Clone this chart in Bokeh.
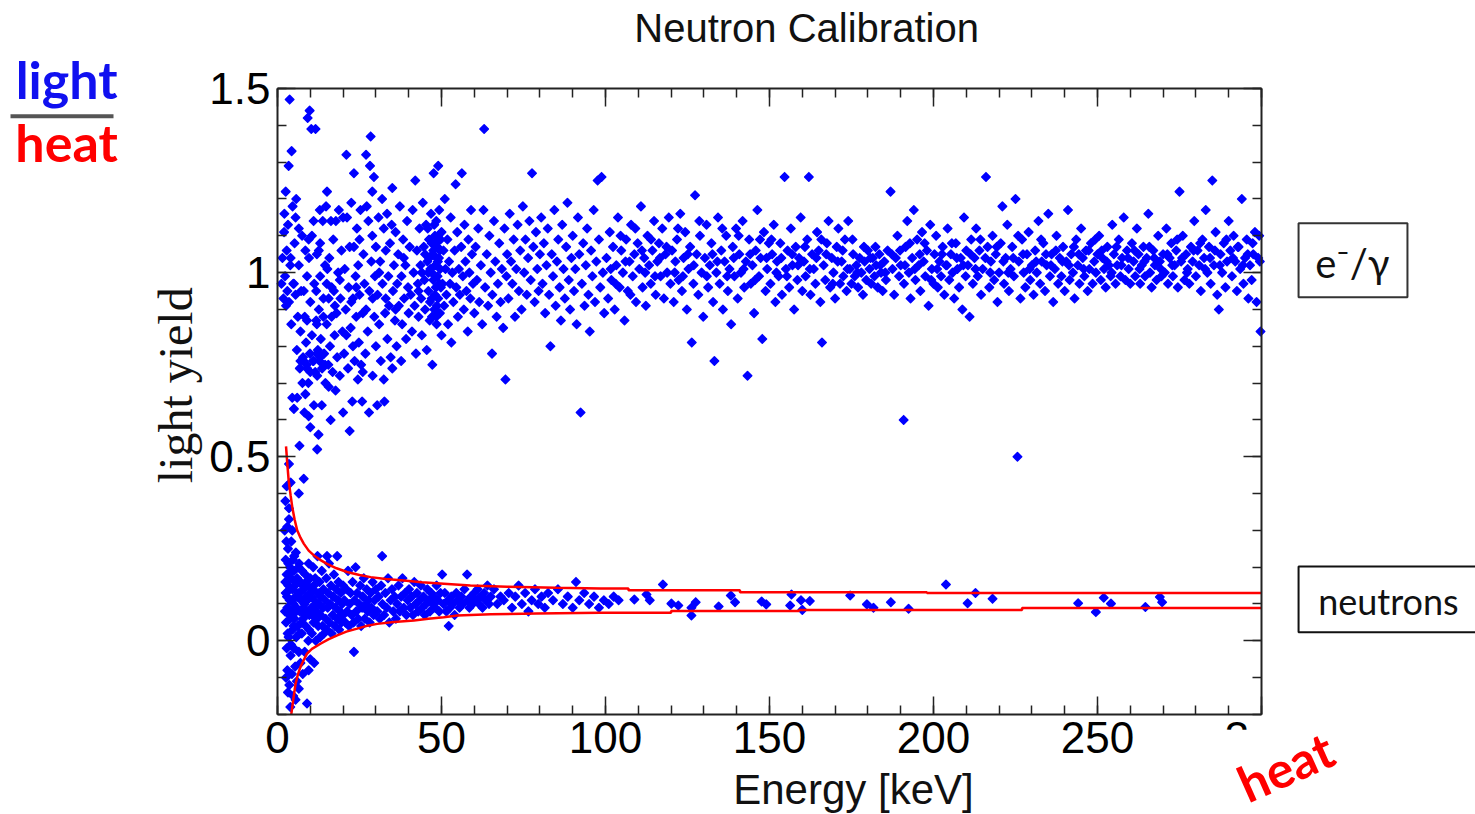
import math
from bokeh.plotting import figure
from bokeh.models import (Range1d, LinearAxis, FixedTicker, CustomJSTickFormatter,
                          Label, BoxAnnotation, ColumnDataSource)
from bokeh.embed import file_html
from bokeh.resources import INLINE

# ---------------- data (energy keV, light yield) ----------------
egamma_points = [
    # 0-10 keV
    (1.2,0.97),(1.5,1.04),(1.8,0.93),(2.0,1.11),(2.1,1.16),(2.3,0.99),(2.5,1.22),(2.6,0.91),(2.8,1.06),
    (3.0,0.95),(3.2,1.13),(3.4,1.29),(3.5,0.92),(3.7,1.47),(3.9,1.02),(4.0,1.04),(4.2,0.86),(4.3,1.33),
    (4.5,0.66),(4.6,1.18),(4.8,0.97),(5.0,0.63),(5.0,0.97),(5.2,1.08),(5.5,1.15),(5.5,0.94),(5.7,1.20),
    (5.9,0.79),(6.0,0.66),(6.2,0.88),(6.5,1.12),(6.5,1.02),(6.7,0.53),(6.8,0.74),(7.0,0.84),(7.2,0.95),
    (7.5,1.10),(7.6,0.70),(7.8,0.77),(8.0,0.95),(8.2,0.62),(8.3,0.88),(8.5,0.67),(8.5,1.06),(8.7,0.81),
    (8.9,0.75),(9.0,0.87),(9.0,0.99),(9.2,1.42),(9.4,0.70),(9.5,0.61),(9.5,1.09),(9.6,1.04),(9.8,1.44),
    (9.9,0.78),(10.0,0.58),(10.0,0.92),(10.0,0.73),(8.0,0.76),(9.0,0.74),(7.0,0.76),
    # 10-20 keV
    (10.3,1.39),(10.5,1.10),(10.5,0.83),(10.8,0.76),(11.0,1.14),(11.1,0.64),(11.2,0.97),(11.5,0.73),
    (11.6,1.39),(11.8,0.87),(12.0,1.05),(12.1,0.52),(12.1,0.72),(12.3,0.79),(12.5,0.56),(12.6,0.90),
    (12.6,1.06),(12.8,0.76),(12.9,1.17),(13.0,0.99),(13.2,0.82),(13.5,0.64),(13.6,0.74),(13.8,1.14),
    (14.0,0.93),(14.2,0.78),(14.5,1.02),(14.6,0.70),(14.8,1.18),(15.0,0.86),(15.1,1.22),(15.2,1.01),
    (15.5,0.75),(15.6,0.69),(15.6,0.93),(15.8,1.04),(16.0,0.80),(16.2,0.60),(16.3,1.14),(16.5,0.96),
    (16.8,0.73),(17.0,1.09),(17.2,0.95),(17.4,0.83),(17.7,0.68),(17.8,1.14),(18.0,0.89),(18.2,0.77),
    (18.5,1.00),(18.7,1.17),(19.0,0.72),(19.2,0.93),(19.5,1.06),(19.8,0.84),(20.0,0.62),(20.0,1.15),
    (14.0,0.88),(11.8,0.95),(13.0,1.08),(17.5,0.91),(19.0,0.98),(15.0,0.97),(12.0,0.86),(16.5,0.88),
    (11.0,0.76),(13.0,0.77),(14.5,0.75),(12.0,0.78),
    # 20-30 keV
    (20.3,0.78),(20.5,1.01),(20.8,0.90),(21.0,1.32),(21.2,1.15),(21.5,0.74),(21.7,0.96),(22.0,0.57),
    (22.0,1.07),(22.3,0.85),(22.5,1.19),(22.8,0.65),(23.0,0.93),(23.3,1.27),(23.3,1.07),(23.5,0.76),
    (23.8,0.99),(24.0,0.88),(24.2,1.12),(24.5,0.71),(24.6,1.02),(24.8,0.81),(25.0,0.94),(25.3,1.17),
    (25.5,0.75),(25.8,0.65),(26.0,0.89),(26.2,1.05),(26.5,0.97),(26.8,0.78),(27.0,1.32),(27.2,1.18),
    (27.5,0.84),(27.7,1.14),(27.9,0.62),(28.0,0.95),(28.2,1.29),(28.4,1.37),(28.6,1.03),(28.9,1.22),
    (28.9,1.10),(29.0,0.72),(29.4,1.26),(29.5,0.88),(29.7,0.99),(30.0,0.80),(30.0,1.07),
    (21.0,0.83),(22.5,0.92),(24.0,0.96),(26.0,0.73),(27.0,0.90),(25.0,1.09),(23.0,0.80),(29.0,0.93),
    # 30-40 keV
    (30.4,0.64),(30.5,0.94),(30.8,1.15),(31.0,0.86),(31.3,1.03),(31.5,0.76),(31.9,1.20),(32.0,0.97),
    (32.4,0.71),(32.4,1.12),(32.6,0.65),(32.8,0.89),(33.0,1.06),(33.4,1.16),(33.5,0.82),(33.8,0.99),
    (34.0,0.91),(34.3,1.08),(34.5,0.77),(35.0,0.74),(35.0,1.23),(35.2,0.95),(35.5,1.02),(35.8,0.87),
    (36.0,1.11),(36.3,0.80),(36.5,0.97),(36.8,1.05),(37.0,0.91),(37.3,1.18),(37.7,0.76),(37.8,0.99),
    (38.0,0.86),(38.3,1.09),(38.6,0.93),(39.0,1.02),(39.2,0.82),(39.5,1.14),(39.8,0.96),(40.0,0.89),
    (31.0,1.00),(33.0,0.93),(36.0,0.90),(38.5,1.04),(34.8,1.13),
    # 40-50 keV
    (40.3,1.07),(40.6,0.94),(41.0,0.84),(41.2,1.17),(41.5,1.00),(41.8,0.91),(42.0,1.25),(42.2,0.78),
    (42.5,1.06),(42.8,0.97),(43.0,0.88),(43.3,1.12),(43.6,1.02),(43.8,0.93),(44.0,0.83),(44.3,1.19),
    (44.6,1.07),(44.8,0.98),(45.0,0.90),(45.3,1.13),(45.5,0.79),(45.7,1.03),(46.0,0.95),(46.2,1.09),
    (46.4,0.87),(46.6,1.01),(46.8,1.16),(47.0,0.93),(47.2,0.75),(47.3,1.05),(47.5,0.98),(47.6,1.27),
    (47.8,0.90),(48.0,1.10),(48.1,1.02),(48.3,0.96),(48.4,1.14),(48.5,0.86),(48.7,1.07),(48.8,0.99),
    (49.0,0.93),(49.0,1.29),(49.2,1.04),(49.3,1.17),(49.5,0.89),(49.6,1.01),(49.8,0.96),(50.0,1.11),
    (50.0,0.83),(45.0,1.05),(46.0,1.00),(47.0,1.08),(48.5,1.04),(49.5,1.06),(43.0,0.95),(44.0,1.00),
    (46.5,0.92),(47.0,1.00),(47.5,1.06),(48.0,0.94),(48.2,1.08),(48.6,0.91),(49.0,1.10),(49.4,0.97),
    (45.8,1.12),(46.3,1.04),(47.8,1.13),(48.9,1.03),(49.7,1.09),(47.1,0.88),(48.4,0.88),
    # 50-60 keV
    (50.3,0.97),(50.6,1.06),(50.8,0.91),(51.0,1.20),(51.2,1.01),(51.5,0.94),(51.8,1.09),(52.0,0.86),
    (52.3,1.03),(52.6,0.97),(52.8,1.15),(53.0,0.81),(53.3,1.00),(53.6,0.92),(54.0,1.06),(54.3,1.24),
    (54.5,0.96),(54.8,1.11),(55.0,0.88),(55.3,1.01),(55.6,0.94),(56.0,1.07),(56.2,1.27),(56.5,0.99),
    (56.8,0.90),(57.0,1.13),(57.3,1.03),(57.6,0.95),(58.0,0.84),(58.2,1.09),(58.5,1.00),(58.8,0.93),
    (59.0,1.17),(59.3,1.05),(59.6,0.97),(60.0,0.89),
    # 60-70 keV
    (60.4,1.07),(60.8,0.98),(61.2,1.12),(61.5,0.92),(62.0,1.02),(62.4,0.86),(62.8,1.17),(63.0,1.39),
    (63.3,0.96),(63.8,1.05),(64.2,0.91),(64.6,1.10),(65.0,1.00),(65.4,0.78),(65.5,0.94),(66.0,1.14),
    (66.4,1.03),(66.8,0.88),(67.2,0.97),(67.6,1.08),(68.0,0.92),(68.4,1.01),(68.8,0.85),(69.2,1.12),
    (69.5,0.71),(69.8,0.99),(70.0,1.05),
    # 70-80 keV
    (70.4,0.93),(70.8,1.16),(71.2,1.03),(71.6,0.97),(72.0,1.09),(72.4,0.88),(72.8,1.01),(73.2,1.13),
    (73.6,0.95),(74.0,1.06),(74.4,0.90),(74.8,1.18),(75.2,1.00),(75.6,1.09),(76.0,0.94),(76.4,1.04),
    (76.8,1.14),(77.2,0.98),(77.6,1.27),(78.0,1.07),(78.4,0.92),(78.8,1.11),(79.2,1.01),(79.6,0.95),
    (80.0,1.05),
    # 80-90 keV
    (80.4,1.15),(80.8,0.97),(81.2,1.08),(81.6,0.89),(82.0,1.02),(82.4,1.12),(82.8,0.94),(83.2,0.80),
    (83.6,1.05),(84.0,0.99),(84.4,1.17),(84.8,0.91),(85.2,1.03),(85.6,1.09),(86.0,0.96),(86.4,0.87),
    (86.8,1.13),(87.2,1.01),(87.6,0.93),(88.0,1.07),(88.4,1.19),(88.8,0.98),(89.2,0.90),(89.6,1.04),
    # 90-100 keV
    (90.0,1.10),(90.4,0.95),(90.8,1.01),(91.2,0.86),(91.6,1.15),(92.0,1.05),(92.4,0.62),(92.8,0.97),
    (93.2,1.08),(93.6,0.91),(94.0,1.02),(94.4,1.12),(94.8,0.94),(95.2,0.84),(95.6,1.06),(96.0,0.99),
    (96.4,1.17),(96.8,0.92),(97.2,1.03),(97.6,1.25),(98.0,1.09),(98.4,0.96),(98.8,1.26),(99.2,1.00),
    (99.6,0.89),
    # 100-150 keV
    (100.3,1.04),(100.8,0.93),(101.3,1.11),(101.8,0.98),(102.3,1.07),(102.8,0.90),(103.3,1.02),(103.8,1.15),
    (104.3,0.96),(104.8,1.06),(105.3,1.00),(105.8,0.87),(106.3,1.09),(106.8,0.95),(107.3,1.03),(107.8,1.13),
    (108.3,0.99),(108.8,1.05),(109.3,0.92),(109.8,1.08),
    (110.3,1.01),(110.8,1.18),(111.3,0.96),(111.8,1.04),(112.3,0.91),(112.8,1.10),(113.3,1.02),(113.8,0.97),
    (114.3,1.06),(114.8,1.14),(115.3,0.94),(115.8,1.03),(116.3,1.08),(116.8,0.99),(117.3,1.12),(117.8,0.93),
    (118.3,1.05),(118.8,1.00),(119.3,1.15),(119.8,0.97),
    (120.3,1.06),(120.8,0.92),(121.3,1.03),(121.8,1.09),(122.3,0.98),(122.8,1.16),(123.3,0.95),(123.8,1.04),
    (124.3,1.11),(124.8,0.90),(125.3,1.01),(125.8,1.07),(126.3,0.81),(126.8,0.97),(127.3,1.21),(127.8,1.05),
    (128.3,0.94),(128.8,1.10),(129.3,1.00),(129.8,0.88),
    (130.3,1.04),(130.8,1.13),(131.3,0.96),(131.8,1.02),(132.3,1.08),(132.8,0.92),(133.2,0.76),(133.8,1.00),
    (134.3,1.15),(134.8,0.97),(135.3,1.06),(135.8,0.90),(136.3,1.03),(136.8,1.10),(137.3,0.95),(137.8,1.01),
    (138.3,0.86),(138.8,1.07),(139.3,0.99),(139.8,1.12),
    (140.3,0.93),(140.8,1.05),(141.3,1.00),(141.8,1.14),(142.3,0.96),(142.8,1.03),(143.3,0.72),(143.8,1.09),
    (144.3,0.97),(144.8,1.02),(145.3,0.89),(145.8,1.06),(146.3,1.17),(146.8,0.99),(147.3,1.04),(147.8,0.82),
    (148.3,1.11),(148.8,0.95),(149.3,1.01),(149.8,1.08),
    # 150-200 keV
    (150.3,0.97),(150.8,1.05),(151.3,1.13),(151.8,0.92),(152.3,1.03),(152.8,0.99),(153.3,1.08),(153.8,0.94),
    (154.6,1.26),(155.0,1.01),(155.5,1.06),(156.0,0.96),(156.5,1.12),(157.0,1.02),(157.5,0.90),(158.0,1.07),
    (158.5,0.98),(159.0,1.04),(159.5,1.15),(160.0,0.95),
    (160.5,1.03),(161.0,0.99),(161.5,1.09),(162.0,1.26),(162.5,0.94),(163.0,1.05),(163.5,1.01),(164.0,0.97),
    (164.5,1.11),(165.0,1.06),(165.5,0.92),(166.0,0.81),(166.5,1.02),(167.0,0.98),(167.5,1.08),(168.0,1.14),
    (168.5,0.96),(169.0,1.04),(169.5,1.00),(170.0,0.93),
    (170.5,1.07),(171.0,1.12),(171.5,0.97),(172.0,1.03),(172.5,0.99),(173.0,1.09),(173.5,0.95),(174.0,1.14),
    (174.5,1.01),(175.0,0.97),(175.5,1.05),(176.0,0.99),(176.5,1.02),(177.0,0.96),(177.5,1.04),(178.0,1.00),
    (178.5,0.94),(179.0,1.03),(179.5,0.98),(180.0,1.06),
    (180.5,1.01),(181.0,0.97),(181.5,1.04),(182.0,0.99),(182.5,1.02),(183.0,0.96),(183.5,1.05),(184.0,1.00),
    (184.5,0.95),(185.0,1.03),(185.5,0.98),(186.0,1.06),(186.9,1.22),(187.5,1.01),(188.0,0.94),(188.5,1.04),
    (189.0,1.10),(189.5,0.99),(190.9,0.60),(190.0,1.02),
    (191.0,0.97),(191.5,1.07),(192.0,1.14),(192.5,1.00),(193.0,0.93),(193.5,1.04),(194.0,1.17),(194.5,0.98),
    (195.0,1.09),(195.5,1.02),(196.0,0.95),(196.5,1.11),(197.0,1.03),(197.5,0.99),(198.0,1.06),(198.5,0.91),
    (199.0,1.13),(199.5,1.01),(200.0,0.97),(200.3,1.05),
    # 200-250 keV
    (200.8,1.10),(201.3,0.96),(201.8,1.03),(202.3,0.99),(202.8,1.07),(203.3,0.94),(203.8,1.02),(204.3,1.12),
    (204.8,0.98),(205.3,1.05),(205.8,1.00),(206.3,0.93),(206.8,1.08),(207.3,1.01),(207.8,0.96),(208.3,1.04),
    (208.8,0.90),(209.3,1.15),(209.8,0.99),(210.0,1.06),
    (210.5,1.02),(211.0,0.88),(211.5,1.09),(212.0,0.97),(212.5,1.04),(213.0,1.12),(213.5,0.99),(214.0,1.06),
    (214.5,0.94),(215.0,1.01),(216.0,1.26),(216.5,1.07),(217.0,0.96),(217.5,1.03),(218.0,1.10),(218.5,0.98),
    (219.0,1.05),(219.5,0.92),(220.0,1.00),
    (220.5,1.08),(221.0,1.18),(221.5,0.97),(222.0,1.04),(222.5,1.13),(223.0,0.95),(223.5,1.01),(224.0,1.07),
    (224.5,0.99),(225.0,1.20),(225.6,0.50),(226.0,1.03),(226.5,0.93),(227.0,1.09),(227.5,1.00),(228.0,0.96),
    (228.5,1.05),(229.0,1.11),(229.5,0.98),(230.0,1.02),
    (230.5,0.94),(231.0,1.06),(231.5,1.00),(232.0,1.14),(232.5,0.97),(233.0,1.03),(233.5,1.08),(234.0,0.95),
    (234.5,1.02),(235.0,1.16),(235.5,0.99),(236.0,1.05),(236.5,0.92),(237.0,1.01),(237.5,1.10),(238.0,0.97),
    (238.5,1.04),(239.0,0.99),(239.5,1.07),(240.0,0.95),
    (240.5,1.03),(241.0,1.17),(241.5,0.98),(242.0,1.05),(242.5,1.00),(243.0,0.93),(243.5,1.09),(244.0,1.02),
    (244.5,0.97),(245.0,1.12),(245.5,1.04),(246.0,0.99),(246.5,1.06),(247.0,0.95),(247.5,1.01),(248.0,1.08),
    (248.5,0.97),(249.0,1.03),(249.5,1.00),(250.0,1.05),
    # 250-300 keV
    (250.5,1.10),(251.0,0.98),(251.5,1.04),(252.0,1.01),(252.5,0.96),(253.0,1.07),(253.5,1.02),(254.0,0.99),
    (254.5,1.13),(255.0,1.05),(255.5,0.97),(256.0,1.02),(256.5,1.09),(257.0,0.99),(257.5,1.04),(258.0,1.15),
    (258.5,0.98),(259.0,1.06),(259.5,1.01),(260.0,0.97),
    (260.5,1.08),(261.0,1.03),(261.5,0.99),(262.0,1.12),(262.5,1.05),(263.0,0.97),(263.5,1.02),(264.0,1.07),
    (264.5,0.99),(265.0,1.04),(265.5,1.16),(266.0,1.00),(266.5,0.96),(267.0,1.06),(267.5,1.02),(268.0,0.98),
    (268.5,1.10),(269.0,1.03),(269.5,0.99),(270.0,1.05),
    (270.5,1.00),(271.0,1.12),(271.5,0.97),(272.0,1.04),(272.5,1.08),(273.0,0.99),(273.5,1.02),(274.0,1.06),
    (274.5,0.96),(275.0,1.22),(275.5,1.03),(276.0,1.10),(276.5,0.98),(277.0,1.05),(277.5,1.01),(278.0,0.97),
    (278.5,1.07),(279.0,1.03),(279.5,1.14),(280.0,0.99),
    (280.5,1.06),(281.0,1.02),(281.5,0.95),(282.0,1.09),(282.5,1.04),(283.0,1.17),(283.5,1.00),(284.0,1.07),
    (284.5,0.97),(285.0,1.25),(285.5,1.02),(286.0,1.11),(286.5,0.94),(287.0,0.90),(287.5,1.05),(288.0,1.00),
    (288.5,1.08),(289.0,0.96),(289.5,1.03),(290.0,1.14),
    (290.5,1.06),(291.0,0.99),(291.5,1.10),(292.0,1.03),(292.5,0.95),(293.0,1.07),(293.5,1.01),(294.0,1.20),
    (294.5,0.97),(295.0,1.04),(295.5,1.09),(296.0,0.93),(296.5,1.02),(297.0,0.98),(297.5,1.05),(298.0,1.11),
    (298.5,0.92),(299.0,1.04),(299.3,1.10),(299.7,0.84),
    # additional points in the dense core 100-300 keV
    (101.6,1.01),(103.1,0.97),(104.6,1.10),(106.1,1.03),(107.6,0.94),(109.1,1.12),
    (111.1,1.06),(112.1,1.00),(113.9,1.09),(115.1,0.99),(116.6,1.04),(118.6,1.07),
    (121.1,1.00),(122.1,1.12),(123.6,0.99),(125.1,1.05),(126.9,1.02),(128.6,1.14),
    (130.9,0.99),(132.6,1.05),(134.1,1.03),(135.6,1.12),(137.1,0.99),(139.1,1.04),
    (140.6,1.10),(142.1,1.01),(144.1,1.05),(145.6,0.98),(147.1,1.09),(149.1,1.04),
    (150.6,1.09),(152.1,1.00),(153.6,1.04),(155.3,0.99),(156.9,1.05),(158.7,1.02),
    (160.8,1.07),(162.3,1.01),(164.3,1.04),(165.8,1.09),(167.3,1.05),(169.3,0.97),
    (170.8,1.03),(172.3,1.06),(173.8,1.01),(175.3,1.09),(176.8,1.00),(178.8,1.07),
    (180.8,1.04),(182.3,1.07),(183.8,1.02),(185.3,1.00),(187.3,1.05),(189.8,1.06),
    (191.3,1.02),(192.8,1.08),(194.3,1.01),(195.8,1.05),(197.3,1.08),(199.3,0.98),
    (201.1,1.01),(202.6,1.05),(204.1,1.02),(205.6,1.08),(207.1,1.04),(209.1,1.02),
    (211.3,1.05),(212.8,1.01),(214.3,1.09),(215.8,1.04),(217.3,1.00),(219.3,1.07),
    (221.3,1.03),(222.8,1.00),(224.3,1.04),(225.8,1.10),(227.3,1.05),(229.3,1.01),
    (231.3,1.03),(232.8,1.09),(234.3,1.05),(235.8,1.02),(237.3,1.06),(239.3,1.03),
    (241.3,1.02),(242.8,1.07),(244.3,1.05),(245.8,1.01),(247.3,1.06),(249.3,1.09),
    (251.3,1.06),(252.8,1.03),(254.3,1.00),(255.8,1.07),(257.3,1.02),(259.3,1.04),
    (261.3,1.06),(262.8,1.01),(264.3,1.03),(265.8,1.07),(267.3,1.04),(269.3,1.01),
    (271.3,1.05),(272.8,1.02),(274.3,1.09),(275.8,1.04),(277.3,1.00),(279.3,1.06),
    (281.3,1.08),(282.8,1.01),(284.3,1.04),(285.8,1.06),(287.3,1.02),(289.3,1.09),
    (291.3,1.04),(292.8,1.07),(294.3,1.02),(295.8,1.05),(297.3,1.08),(299.5,1.03),
]

neutron_points = [
    # 0-10 keV
    (2.2,0.30),(2.5,0.22),(2.5,0.13),(2.6,0.05),(2.8,-0.02),(2.8,0.18),(3.0,0.09),(3.0,-0.08),(3.2,0.25),
    (3.3,0.15),(3.4,0.01),(3.5,0.36),(3.5,0.33),(3.5,0.48),(3.6,-0.12),(3.7,0.11),(3.8,0.20),(3.9,0.06),
    (4.0,-0.04),(4.0,0.43),(4.1,0.17),(4.2,0.27),(4.3,0.08),(4.4,-0.09),(4.5,0.14),(4.6,0.03),(4.7,0.22),
    (4.8,-0.15),(4.9,0.10),(5.0,0.19),(5.0,-0.02),(5.2,0.06),(5.3,0.15),(5.4,-0.07),(5.5,0.12),(5.6,0.24),
    (5.7,0.01),(5.8,0.09),(5.9,-0.11),(6.0,0.17),(6.2,0.04),(6.3,0.13),(6.5,0.40),(6.5,-0.03),(6.6,0.21),
    (6.8,0.08),(7.0,0.16),(7.0,-0.06),(7.2,0.11),(7.4,0.02),(7.5,0.19),(7.7,-0.09),(7.8,0.06),(8.0,0.44),
    (8.0,0.14),(8.2,0.10),(8.3,-0.03),(8.5,0.18),(8.6,0.04),(8.8,0.12),(9.0,-0.17),(9.0,0.08),(9.2,0.15),
    (9.4,0.00),(9.5,0.21),(9.7,0.07),(9.9,0.13),(10.0,-0.05),(10.0,0.17),
    (2.3,0.08),(2.4,0.16),(2.7,0.27),(2.9,0.12),(3.1,0.02),(3.3,0.21),(3.6,0.07),(3.8,0.14),(4.1,-0.01),
    (4.4,0.19),(4.6,0.11),(4.9,0.04),(5.1,0.23),(5.4,0.16),(5.7,0.08),(6.1,0.12),(6.4,0.20),(6.7,0.02),
    (6.9,0.13),(7.3,0.05),(7.6,0.15),(7.9,0.09),(8.4,0.07),(8.7,0.16),(9.1,0.11),(9.6,0.03),
    (3.2,-0.14),(3.9,-0.18),(2.6,-0.10),(5.5,-0.16),(4.5,0.30),(3.0,0.31),(2.4,0.38),(6.5,-0.13),
    (9.5,-0.08),(2.8,0.42),
    # 10-20 keV
    (10.2,0.12),(10.6,0.07),(11.1,0.15),(11.6,0.10),(12.1,0.06),(12.7,0.13),(11.2,-0.06),
    (10.3,0.09),(10.5,0.02),(10.7,0.14),(10.9,0.20),(11.0,0.05),(11.3,0.11),(11.5,0.17),(11.7,0.00),
    (11.9,0.08),(12.0,0.13),(12.2,0.23),(12.4,0.04),(12.6,0.10),(12.8,0.16),(13.0,0.01),(13.1,0.07),
    (13.3,0.12),(13.5,0.19),(13.7,0.04),(13.9,0.09),(14.0,0.14),(14.2,0.02),(14.5,0.11),(14.7,0.06),
    (14.9,0.17),(15.1,0.03),(15.1,0.23),(15.3,0.09),(15.5,0.13),(15.7,0.21),(15.9,0.05),(16.1,0.10),
    (16.3,0.15),(16.5,0.02),(16.8,0.07),(17.0,0.12),(17.2,0.18),(17.5,0.04),(17.7,0.09),(17.9,0.14),
    (18.2,0.06),(18.2,0.23),(18.4,0.11),(18.6,0.16),(18.8,0.03),(19.0,0.08),(19.3,0.13),(19.5,0.05),
    (19.7,0.10),(20.0,0.15),(20.0,0.07),
    # 20-30 keV
    (20.4,0.11),(20.7,0.05),(21.0,0.14),(21.2,0.08),(21.5,0.19),(21.8,0.04),(22.0,0.10),(22.3,0.13),
    (22.6,0.07),(22.9,0.16),(23.2,0.05),(23.3,-0.03),(23.5,0.11),(23.8,0.20),(24.0,0.08),(24.3,0.13),
    (24.6,0.06),(24.9,0.10),(25.2,0.15),(25.5,0.04),(25.8,0.09),(26.0,0.12),(26.3,0.17),(26.6,0.06),
    (26.9,0.10),(27.2,0.14),(27.5,0.08),(27.8,0.11),(28.1,0.05),(28.4,0.13),(28.7,0.09),(29.0,0.16),
    (29.3,0.07),(29.6,0.11),(30.0,0.14),
    # 30-50 keV
    (30.4,0.08),(30.8,0.12),(31.2,0.06),(31.6,0.15),(31.9,0.23),(32.0,0.10),(32.5,0.07),(32.9,0.13),
    (33.3,0.09),(33.7,0.17),(34.1,0.05),(34.5,0.11),(34.9,0.14),(35.3,0.08),(35.7,0.12),(36.1,0.06),
    (36.5,0.10),(36.9,0.15),(37.3,0.08),(37.7,0.12),(38.1,0.17),(38.5,0.09),(38.9,0.13),(39.3,0.07),
    (39.7,0.11),
    (40.1,0.14),(40.5,0.09),(40.9,0.12),(41.3,0.07),(41.7,0.16),(42.1,0.10),(42.5,0.13),(42.9,0.08),
    (43.3,0.11),(43.7,0.15),(44.1,0.09),(44.5,0.12),(44.9,0.07),(45.3,0.10),(45.7,0.14),(46.1,0.11),
    (46.5,0.08),(46.9,0.13),(47.3,0.10),(47.7,0.12),(48.1,0.09),(48.5,0.15),(48.9,0.11),(49.3,0.08),
    (49.7,0.13),
    # 50-70 keV
    (50.2,0.18),(50.6,0.10),(51.0,0.13),(51.5,0.08),(52.0,0.11),(52.2,0.04),(52.6,0.09),(53.0,0.12),
    (53.5,0.10),(54.0,0.07),(54.5,0.13),(55.0,0.11),(55.5,0.09),(56.0,0.12),(56.5,0.10),(57.0,0.14),
    (57.8,0.18),(58.0,0.11),(58.5,0.09),(59.0,0.12),(59.5,0.10),(60.0,0.13),
    (60.5,0.11),(61.0,0.14),(61.5,0.10),(62.0,0.12),(62.5,0.09),(63.0,0.13),(63.5,0.11),(64.0,0.15),
    (64.5,0.10),(65.0,0.12),(66.0,0.14),(67.0,0.10),(68.0,0.12),(69.0,0.11),
    # 70-105 keV
    (70.5,0.13),(71.5,0.09),(72.5,0.12),(73.5,0.15),(74.5,0.10),(75.5,0.13),(76.5,0.08),(77.5,0.11),
    (78.5,0.14),(79.5,0.10),(80.5,0.12),(81.5,0.09),(82.5,0.13),(84.0,0.11),(85.5,0.14),(87.0,0.10),
    (88.5,0.12),(90.0,0.09),(91.0,0.16),(92.0,0.11),(93.5,0.13),(95.0,0.10),(96.5,0.12),(98.0,0.09),
    (99.5,0.11),(101.0,0.10),(102.5,0.12),(104.0,0.11),
    # 105-300 keV
    (108.8,0.112),(112.5,0.126),(113.5,0.110),(117.5,0.153),(120.1,0.101),(122.2,0.096),(126.2,0.069),
    (126.2,0.090),(127.5,0.105),(134.5,0.093),(138.2,0.123),(139.5,0.105),(147.6,0.107),(149.0,0.099),
    (156.3,0.096),(156.7,0.126),(159.6,0.110),(160.0,0.084),(162.3,0.108),(174.6,0.123),(179.7,0.099),
    (181.7,0.090),(187.0,0.105),(192.4,0.087),(203.8,0.153),(210.4,0.102),(212.8,0.130),(218.0,0.114),
    (244.1,0.102),(249.5,0.078),(251.9,0.117),(254.1,0.101),(264.6,0.092),(269.0,0.119),(269.7,0.105),
]

upper_band_energy = [2.6, 3.0, 3.4, 4.0, 4.5, 5.2, 6.0, 7.0, 8.0, 9.5, 11.1, 13.0, 15.1, 18.0, 21.2,
                     25.0, 28.4, 33.0, 38.5, 44.0, 50.7, 58.8, 70.0, 85.0, 98.5, 107.0, 107.0, 141.0,
                     141.0, 198.0, 198.0, 300.0]
upper_band_yield = [0.528, 0.48, 0.436, 0.395, 0.363, 0.33, 0.30, 0.28, 0.264, 0.245, 0.232, 0.22, 0.209,
                    0.197, 0.187, 0.179, 0.173, 0.168, 0.164, 0.159, 0.155, 0.150, 0.147, 0.144, 0.142,
                    0.142, 0.137, 0.137, 0.132, 0.132, 0.130, 0.130]

lower_band_energy = [4.2, 4.8, 5.5, 6.2, 7.0, 8.0, 9.0, 10.5, 13.1, 15.5, 18.2, 21.0, 24.3, 27.0, 30.4,
                     35.5, 41.6, 46.0, 50.7, 54.8, 65.0, 79.1, 98.5, 120.0, 120.0, 159.0, 159.0, 227.0,
                     227.0, 300.0]
lower_band_yield = [-0.2, -0.16, -0.117, -0.092, -0.071, -0.052, -0.035, -0.022, -0.008, 0.004, 0.015,
                    0.025, 0.033, 0.040, 0.046, 0.051, 0.055, 0.060, 0.064, 0.069, 0.072, 0.074, 0.076,
                    0.076, 0.081, 0.081, 0.084, 0.084, 0.089, 0.089]

x_major_ticks = [0, 50, 100, 150, 200, 250, 300]
y_major_ticks = [0, 0.5, 1, 1.5]
x_minor_ticks = [v for v in range(0, 301, 10)]
y_minor_ticks = [round(-0.2 + 0.1 * i, 2) for i in range(0, 18)]
x_axis_bounds = (0, 300)
y_axis_bounds = (-0.2, 1.5)

egamma_energy = [e for e, _ in egamma_points]
egamma_yield = [y for _, y in egamma_points]
neutron_energy = [e for e, _ in neutron_points]
neutron_yield = [y for _, y in neutron_points]

# ---------------- figure: frame spans the canvas; axes drawn at fixed locations ----------------
PX_PER_X = 3.28     # pixels per keV
PX_PER_Y = 368.0    # pixels per unit of light yield
LEFT, RIGHT, TOP, BOTTOM = 277, 214, 88, 100
W, H = 1475, 814

p = figure(width=W, height=H, output_backend="svg", toolbar_location=None,
           x_range=Range1d(x_axis_bounds[0] - LEFT / PX_PER_X, x_axis_bounds[1] + RIGHT / PX_PER_X),
           y_range=Range1d(y_axis_bounds[0] - BOTTOM / PX_PER_Y, y_axis_bounds[1] + TOP / PX_PER_Y),
           x_axis_location=None, y_axis_location=None,
           min_border=0, min_border_left=0, min_border_right=0, min_border_top=0, min_border_bottom=0)
p.title.visible = False
p.xgrid.visible = False
p.ygrid.visible = False
p.background_fill_color = "white"
p.border_fill_color = "white"
p.outline_line_color = None

AX = "#222222"
TICKFONT = "Liberation Sans"
fmt = CustomJSTickFormatter(code="return tick.toString();")
xt = FixedTicker(ticks=x_major_ticks, minor_ticks=x_minor_ticks)
yt = FixedTicker(ticks=y_major_ticks, minor_ticks=y_minor_ticks)

def make_axis(ticker, loc, bounds, show_labels, standoff):
    ax = LinearAxis(ticker=ticker, formatter=fmt, fixed_location=loc, bounds=bounds)
    ax.axis_line_color = AX
    ax.axis_line_width = 2
    ax.major_tick_line_color = AX
    ax.minor_tick_line_color = AX
    ax.major_tick_line_width = 1.5
    ax.minor_tick_line_width = 1.5
    ax.major_tick_in = 18
    ax.major_tick_out = 0
    ax.minor_tick_in = 9
    ax.minor_tick_out = 0
    ax.major_label_text_font = TICKFONT
    ax.major_label_text_font_size = "44px"
    ax.major_label_standoff = standoff
    ax.major_label_text_color = "black" if show_labels else None
    return ax

p.add_layout(make_axis(xt, y_axis_bounds[0], x_axis_bounds, True, 8), "below")
p.add_layout(make_axis(yt, x_axis_bounds[0], y_axis_bounds, True, 7), "left")
p.add_layout(make_axis(xt, y_axis_bounds[1], x_axis_bounds, False, 0), "above")
p.add_layout(make_axis(yt, x_axis_bounds[1], y_axis_bounds, False, 0), "right")

# ---------------- glyphs ----------------
BLUE = "#0000ff"
src_g = ColumnDataSource(dict(x=egamma_energy, y=egamma_yield))
src_n = ColumnDataSource(dict(x=neutron_energy, y=neutron_yield))
for src in (src_g, src_n):
    p.scatter("x", "y", source=src, marker="square", size=6, angle=math.pi / 4,
              fill_color=BLUE, line_color=BLUE, line_width=1.5, line_join="round")

p.line(upper_band_energy, upper_band_yield, line_color="#ff0000", line_width=2.5)
p.line(lower_band_energy, lower_band_yield, line_color="#ff0000", line_width=2.5)

# ---------------- texts / annotations ----------------
p.add_layout(Label(x=161.3, y=1.664, text="Neutron Calibration", text_font="Liberation Sans",
                   text_font_size="40px", text_align="center", text_baseline="middle",
                   text_color="#111111"))
p.add_layout(Label(x=175.6, y=-0.405, text="Energy [keV]", text_font="Liberation Sans",
                   text_font_size="42px", text_align="center", text_baseline="middle",
                   text_color="#111111"))
p.add_layout(Label(x=-31.1, y=0.694, text="light yield", text_font="Liberation Serif",
                   text_font_size="48px", text_align="center", text_baseline="middle",
                   angle=math.pi / 2, text_color="#111111"))

# light / heat fraction at top-left
p.add_layout(Label(x=-64.3, y=1.5255, text="light", text_font="Lato", text_font_style="bold",
                   text_font_size="52px", text_align="center", text_baseline="alphabetic",
                   text_color="#1010f0"))
p.add_layout(BoxAnnotation(left=-81.4, right=-50.0, top=1.4304, bottom=1.4196,
                           fill_color="#555555", fill_alpha=1.0, line_color=None))
p.add_layout(Label(x=-64.3, y=1.3544, text="heat", text_font="Lato", text_font_style="bold",
                   text_font_size="52px", text_align="center", text_baseline="alphabetic",
                   text_color="#ff0000"))

# white patches hiding most of the last x tick label (as in the reference)
p.add_layout(BoxAnnotation(left=295.7, right=372.0, top=-0.2065, bottom=-0.60,
                           fill_color="white", fill_alpha=1.0, line_color=None, level="overlay"))
p.add_layout(BoxAnnotation(left=288.1, right=296.0, top=-0.2418, bottom=-0.60,
                           fill_color="white", fill_alpha=1.0, line_color=None, level="overlay"))

# rotated "heat" at bottom-right
p.add_layout(Label(x=307.3, y=-0.341, text="heat", text_font="Lato", text_font_style="bold",
                   text_font_size="50px", text_align="center", text_baseline="middle",
                   angle=0.42, text_color="#ff0000", level="overlay"))

# boxes on the right
p.add_layout(BoxAnnotation(left=311.3, right=344.5, top=1.134, bottom=0.933,
                           fill_color="white", fill_alpha=1.0, line_color="#333333",
                           line_alpha=1.0, line_width=2))
p.add_layout(Label(x=327.7, y=1.0255, text="e⁻/γ", text_font="Lato",
                   text_font_size="40px", text_align="center", text_baseline="middle",
                   text_color="#111111"))
p.add_layout(BoxAnnotation(left=311.3, right=372.0, top=0.202, bottom=0.023,
                           fill_color="white", fill_alpha=1.0, line_color="#111111",
                           line_alpha=1.0, line_width=2))
p.add_layout(Label(x=338.7, y=0.1074, text="neutrons", text_font="Lato",
                   text_font_size="36px", text_align="center", text_baseline="middle",
                   text_color="#111111"))

open("out.html", "w").write(file_html(p, INLINE))
